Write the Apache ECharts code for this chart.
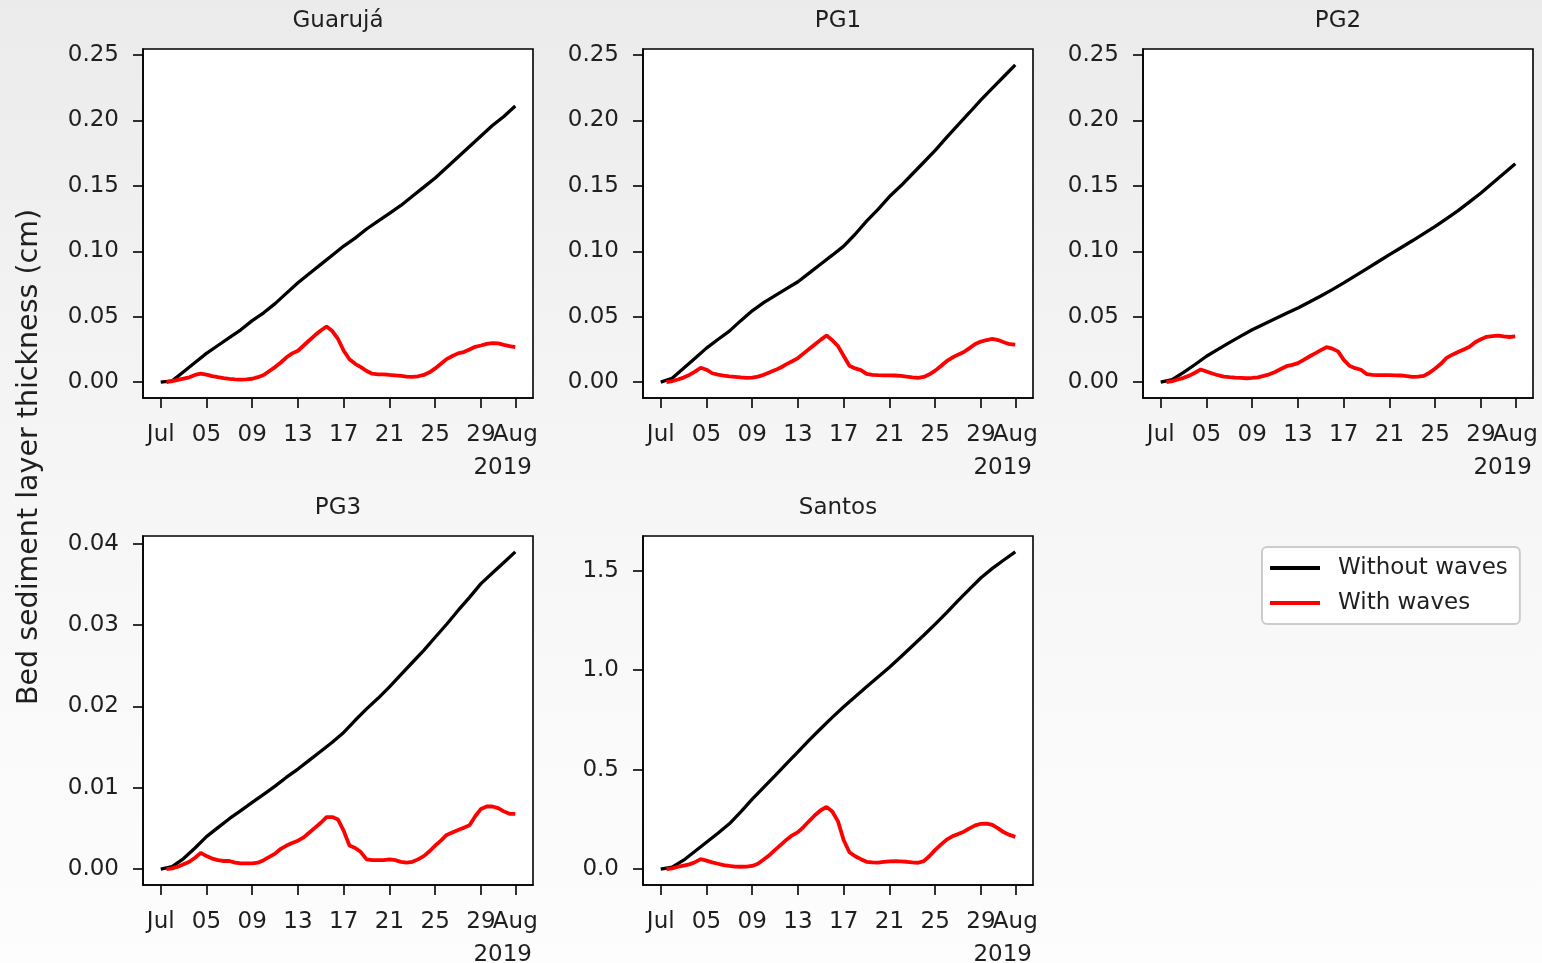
<!DOCTYPE html>
<html>
<head>
<meta charset="utf-8">
<script src="https://cdn.jsdelivr.net/npm/echarts@6/dist/echarts.min.js"></script>
<style>
  html, body { margin: 0; padding: 0; }
  body { background: linear-gradient(to bottom, #ebebeb 0%, #f5f5f5 45%, #fdfdfd 100%); }
  #chart { width: 1542px; height: 963px; }
</style>
</head>
<body>
<div id="chart"></div>
<script>
// ---------------- data ----------------
const panelNames = ['Guarujá', 'PG1', 'PG2', 'PG3', 'Santos'];
const seriesNames = ['Without waves', 'With waves'];
const yAxisTitle = 'Bed sediment layer thickness (cm)';
const yearLabel = '2019';

// x: days since 2019-07-01
const tickDays = [0, 4, 8, 12, 16, 20, 24, 28];
const tickLabels = ['Jul', '05', '09', '13', '17', '21', '25', '29'];
const monthEndDay = [31];
const monthEndLabel = ['Aug'];

const daysDaily = [0, 1, 2, 3, 4, 5, 6, 7, 8, 9, 10, 11, 12, 13, 14, 15, 16, 17, 18, 19, 20,
  21, 22, 23, 24, 25, 26, 27, 28, 29, 30, 31];
const daysHalf = [0, 0.5, 1, 1.5, 2, 2.5, 3, 3.5, 4, 4.5, 5, 5.5, 6, 6.5, 7, 7.5, 8, 8.5, 9, 9.5,
  10, 10.5, 11, 11.5, 12, 12.5, 13, 13.5, 14, 14.5, 15, 15.5, 16, 16.5, 17, 17.5, 18, 18.5, 19, 19.5,
  20, 20.5, 21, 21.5, 22, 22.5, 23, 23.5, 24, 24.5, 25, 25.5, 26, 26.5, 27, 27.5, 28, 28.5, 29, 29.5,
  30, 30.5, 31];

// y ticks
const yTicksRow1 = [0, 0.05, 0.10, 0.15, 0.20, 0.25];
const yLabelsRow1 = ['0.00', '0.05', '0.10', '0.15', '0.20', '0.25'];
const yTicksPG3 = [0, 0.01, 0.02, 0.03, 0.04];
const yLabelsPG3 = ['0.00', '0.01', '0.02', '0.03', '0.04'];
const yTicksSantos = [0, 0.5, 1.0, 1.5];
const yLabelsSantos = ['0.0', '0.5', '1.0', '1.5'];

// Without waves (daily)
const guarujaNoWaves = [0, 0.001, 0.008, 0.015, 0.022, 0.028, 0.034, 0.040, 0.047, 0.053, 0.060,
  0.068, 0.076, 0.083, 0.090, 0.097, 0.104, 0.110, 0.117, 0.123, 0.129, 0.135, 0.142, 0.149,
  0.156, 0.164, 0.172, 0.180, 0.188, 0.196, 0.203, 0.211];
const pg1NoWaves = [0, 0.003, 0.0107, 0.0183, 0.026, 0.0326, 0.039, 0.047, 0.0545, 0.0608, 0.0661,
  0.0714, 0.0767, 0.0835, 0.0903, 0.097, 0.1039, 0.113, 0.123, 0.132, 0.1418, 0.150, 0.159, 0.168,
  0.177, 0.187, 0.1966, 0.206, 0.2157, 0.2246, 0.2335, 0.2424];
const pg2NoWaves = [0, 0.002, 0.0075, 0.0135, 0.0198, 0.025, 0.0302, 0.0352, 0.040, 0.0443, 0.0485,
  0.0526, 0.0567, 0.0612, 0.0658, 0.0707, 0.0758, 0.0812, 0.0866, 0.092, 0.0974, 0.1027, 0.108,
  0.1135, 0.119, 0.125, 0.131, 0.1377, 0.1445, 0.152, 0.1594, 0.1668];
const pg3NoWaves = [0, 0.0003, 0.0013, 0.0026, 0.004, 0.0051, 0.0062, 0.0072, 0.0082, 0.0092, 0.0102,
  0.0113, 0.0123, 0.0134, 0.0145, 0.0156, 0.0168, 0.0183, 0.0197, 0.021, 0.0224, 0.0239, 0.0254,
  0.0269, 0.0285, 0.0301, 0.0318, 0.0334, 0.0351, 0.0364, 0.0377, 0.039];
const santosNoWaves = [0, 0.01, 0.045, 0.09, 0.135, 0.18, 0.228, 0.288, 0.352, 0.411, 0.47, 0.53,
  0.589, 0.65, 0.707, 0.763, 0.816, 0.867, 0.917, 0.966, 1.015, 1.068, 1.122, 1.176, 1.232, 1.29,
  1.35, 1.408, 1.465, 1.512, 1.554, 1.595];

// With waves (half-daily)
const guarujaWaves = [null, 0, 0.0008, 0.0018, 0.0027, 0.0037, 0.0055, 0.0065, 0.0058, 0.0046,
  0.0038, 0.0031, 0.0025, 0.0021, 0.002, 0.0022, 0.0026, 0.0038, 0.0055, 0.0085, 0.0115, 0.015,
  0.019, 0.022, 0.024, 0.028, 0.032, 0.036, 0.0395, 0.0425, 0.039, 0.033, 0.024, 0.0175, 0.014,
  0.0115, 0.0085, 0.0065, 0.006, 0.006, 0.0055, 0.0052, 0.0048, 0.0042, 0.004, 0.0045, 0.0055,
  0.0075, 0.0105, 0.014, 0.0176, 0.020, 0.022, 0.023, 0.025, 0.027, 0.028, 0.0292, 0.0298, 0.0296,
  0.0285, 0.0275, 0.0267];
const pg1Waves = [null, 0, 0.0008, 0.002, 0.0035, 0.0055, 0.008, 0.011, 0.0095, 0.0068, 0.0057,
  0.005, 0.0044, 0.004, 0.0036, 0.0033, 0.0035, 0.0042, 0.0056, 0.0074, 0.0092, 0.0112, 0.0138,
  0.016, 0.0184, 0.022, 0.0255, 0.029, 0.0325, 0.0356, 0.032, 0.0275, 0.02, 0.0125, 0.0105, 0.0092,
  0.0063, 0.0055, 0.0053, 0.0052, 0.0052, 0.0051, 0.0048, 0.0042, 0.0037, 0.0033, 0.004, 0.006,
  0.0088, 0.0123, 0.016, 0.0188, 0.021, 0.023, 0.026, 0.0292, 0.031, 0.0322, 0.033, 0.0322, 0.0305,
  0.029, 0.0287];
const pg2Waves = [null, 0, 0.0008, 0.002, 0.0033, 0.005, 0.0072, 0.0097, 0.0082, 0.0066, 0.0053,
  0.0043, 0.0038, 0.0034, 0.0032, 0.003, 0.0032, 0.0037, 0.0048, 0.006, 0.0078, 0.01, 0.0122,
  0.0132, 0.0145, 0.017, 0.0196, 0.022, 0.0245, 0.0267, 0.0256, 0.0235, 0.017, 0.0125, 0.0107,
  0.0095, 0.0062, 0.0055, 0.0054, 0.0053, 0.0053, 0.0052, 0.0051, 0.0046, 0.0041, 0.0042, 0.0048,
  0.0072, 0.0105, 0.014, 0.0186, 0.021, 0.023, 0.025, 0.027, 0.0305, 0.0328, 0.0346, 0.0352, 0.0356,
  0.035, 0.0345, 0.035];
const pg3Waves = [null, 0, 0.0001, 0.0003, 0.0006, 0.0009, 0.0014, 0.002, 0.0016, 0.0013, 0.0011,
  0.001, 0.001, 0.0008, 0.0007, 0.0007, 0.0007, 0.0008, 0.0011, 0.0015, 0.0019, 0.0025, 0.0029,
  0.0032, 0.0035, 0.0039, 0.0045, 0.0051, 0.0057, 0.0064, 0.0064, 0.0061, 0.0047, 0.0029, 0.0026,
  0.0021, 0.0012, 0.0011, 0.0011, 0.0011, 0.0012, 0.0011, 0.0009, 0.0008, 0.0009, 0.0012, 0.0016,
  0.0022, 0.0029, 0.0035, 0.0042, 0.0045, 0.0048, 0.0051, 0.0054, 0.0065, 0.0074, 0.0077, 0.0077,
  0.0075, 0.0071, 0.0068, 0.0068];
const santosWaves = [null, 0, 0.004, 0.012, 0.018, 0.024, 0.035, 0.05, 0.043, 0.034, 0.027, 0.02,
  0.016, 0.013, 0.012, 0.013, 0.016, 0.027, 0.048, 0.07, 0.097, 0.122, 0.148, 0.17, 0.186, 0.213,
  0.243, 0.272, 0.296, 0.313, 0.29, 0.24, 0.145, 0.085, 0.065, 0.05, 0.037, 0.034, 0.033, 0.036,
  0.039, 0.04, 0.039, 0.037, 0.034, 0.032, 0.04, 0.066, 0.097, 0.123, 0.148, 0.165, 0.176, 0.188, 0.205,
  0.22, 0.228, 0.229, 0.222, 0.205, 0.185, 0.172, 0.162];

// ---------------- layout / style ----------------
const FONT = 'DejaVu Sans';
const TEXT = '#1f1f1f';
const noWaves = [guarujaNoWaves, pg1NoWaves, pg2NoWaves, pg3NoWaves, santosNoWaves];
const waves = [guarujaWaves, pg1Waves, pg2Waves, pg3Waves, santosWaves];
const gridBoxes = [
  { left: 143, top: 49 }, { left: 643, top: 49 }, { left: 1143, top: 49 },
  { left: 143, top: 536 }, { left: 643, top: 536 }
];
const GW = 390, GH = 349;
const yCfg = [
  { min: -0.0121, max: 0.2545, ticks: yTicksRow1, labels: yLabelsRow1 },
  { min: -0.0121, max: 0.2545, ticks: yTicksRow1, labels: yLabelsRow1 },
  { min: -0.0121, max: 0.2545, ticks: yTicksRow1, labels: yLabelsRow1 },
  { min: -0.00195, max: 0.04095, ticks: yTicksPG3, labels: yLabelsPG3 },
  { min: -0.0798, max: 1.6748, ticks: yTicksSantos, labels: yLabelsSantos }
];
const xMin = -1.55, xMax = 32.55;

function xAxisDef(i, ticks, labels, showLine) {
  return {
    type: 'value', gridIndex: i, min: xMin, max: xMax, position: 'bottom',
    splitLine: { show: false },
    axisLine: { show: showLine, onZero: false, lineStyle: { color: '#000', width: 1.6 } },
    axisTick: { show: true, inside: false, length: 10, customValues: ticks, lineStyle: { color: '#000', width: 1.6 } },
    axisLabel: {
      show: true, customValues: ticks, margin: 26, fontFamily: FONT, fontSize: 23, color: TEXT,
      hideOverlap: false, showMinLabel: true, showMaxLabel: true,
      formatter: v => { const k = ticks.indexOf(v); return k >= 0 ? labels[k] : ''; }
    }
  };
}

const grids = [], xAxes = [], yAxes = [], series = [], graphics = [];
gridBoxes.forEach((g, i) => {
  grids.push({
    left: g.left, top: g.top, width: GW, height: GH,
    show: true, backgroundColor: '#ffffff', borderColor: '#000', borderWidth: 1.6,
    outerBoundsMode: 'none', containLabel: false
  });
  xAxes.push(xAxisDef(i, tickDays, tickLabels, true));       // index 2*i
  xAxes.push(xAxisDef(i, monthEndDay, monthEndLabel, false)); // index 2*i+1
  const yc = yCfg[i];
  yAxes.push({
    type: 'value', gridIndex: i, min: yc.min, max: yc.max,
    splitLine: { show: false },
    axisLine: { show: true, onZero: false, lineStyle: { color: '#000', width: 1.6 } },
    axisTick: { show: true, inside: false, length: 10, customValues: yc.ticks, lineStyle: { color: '#000', width: 1.6 } },
    axisLabel: {
      show: true, customValues: yc.ticks, margin: 24, fontFamily: FONT, fontSize: 23, color: TEXT,
      showMinLabel: true, showMaxLabel: true,
      formatter: v => { const k = yc.ticks.findIndex(t => Math.abs(t - v) < 1e-9); return k >= 0 ? yc.labels[k] : ''; }
    }
  });
  series.push({
    name: seriesNames[0], type: 'line', xAxisIndex: 2 * i, yAxisIndex: i, showSymbol: false, symbol: 'none',
    data: daysDaily.map((d, k) => [d, noWaves[i][k]]),
    lineStyle: { color: '#000000', width: 3.3 }, itemStyle: { color: '#000000' }, z: 2, silent: true
  });
  series.push({
    name: seriesNames[1], type: 'line', xAxisIndex: 2 * i, yAxisIndex: i, showSymbol: false, symbol: 'none',
    data: daysHalf.map((d, k) => [d, waves[i][k]]),
    lineStyle: { color: '#ff0000', width: 3.8 }, itemStyle: { color: '#ff0000' }, z: 3, silent: true
  });
  // panel title
  graphics.push({
    type: 'text', x: g.left + GW / 2, y: g.top - 28,
    style: { text: panelNames[i], fill: TEXT, font: '23px "' + FONT + '"', textAlign: 'center', textVerticalAlign: 'middle' }
  });
  // year offset label under the last tick (right-aligned to frame)
  graphics.push({
    type: 'text', x: g.left + GW - 1, y: g.top + GH + 70,
    style: { text: yearLabel, fill: TEXT, font: '23px "' + FONT + '"', textAlign: 'right', textVerticalAlign: 'middle' }
  });
});

graphics.push({
  type: 'text', x: 30, y: 457, rotation: Math.PI / 2,
  style: { text: yAxisTitle, fill: TEXT, font: '28.5px "' + FONT + '"', textAlign: 'center', textVerticalAlign: 'middle' }
});

const chart = echarts.init(document.getElementById('chart'), null, { renderer: 'canvas' });
chart.setOption({
  backgroundColor: 'transparent',
  animation: false,
  grid: grids,
  xAxis: xAxes,
  yAxis: yAxes,
  series: series,
  graphic: graphics,
  legend: {
    data: seriesNames,
    orient: 'vertical',
    left: 1262, top: 547,
    backgroundColor: '#ffffff',
    borderColor: '#cccccc', borderWidth: 2, borderRadius: 5,
    padding: [8, 12, 8, 8],
    icon: 'rect', itemWidth: 50, itemHeight: 4, itemGap: 9,
    selectedMode: false,
    textStyle: { fontFamily: FONT, fontSize: 23, color: TEXT, lineHeight: 26, padding: [0, 0, 0, 13] }
  }
});
</script>
</body>
</html>
